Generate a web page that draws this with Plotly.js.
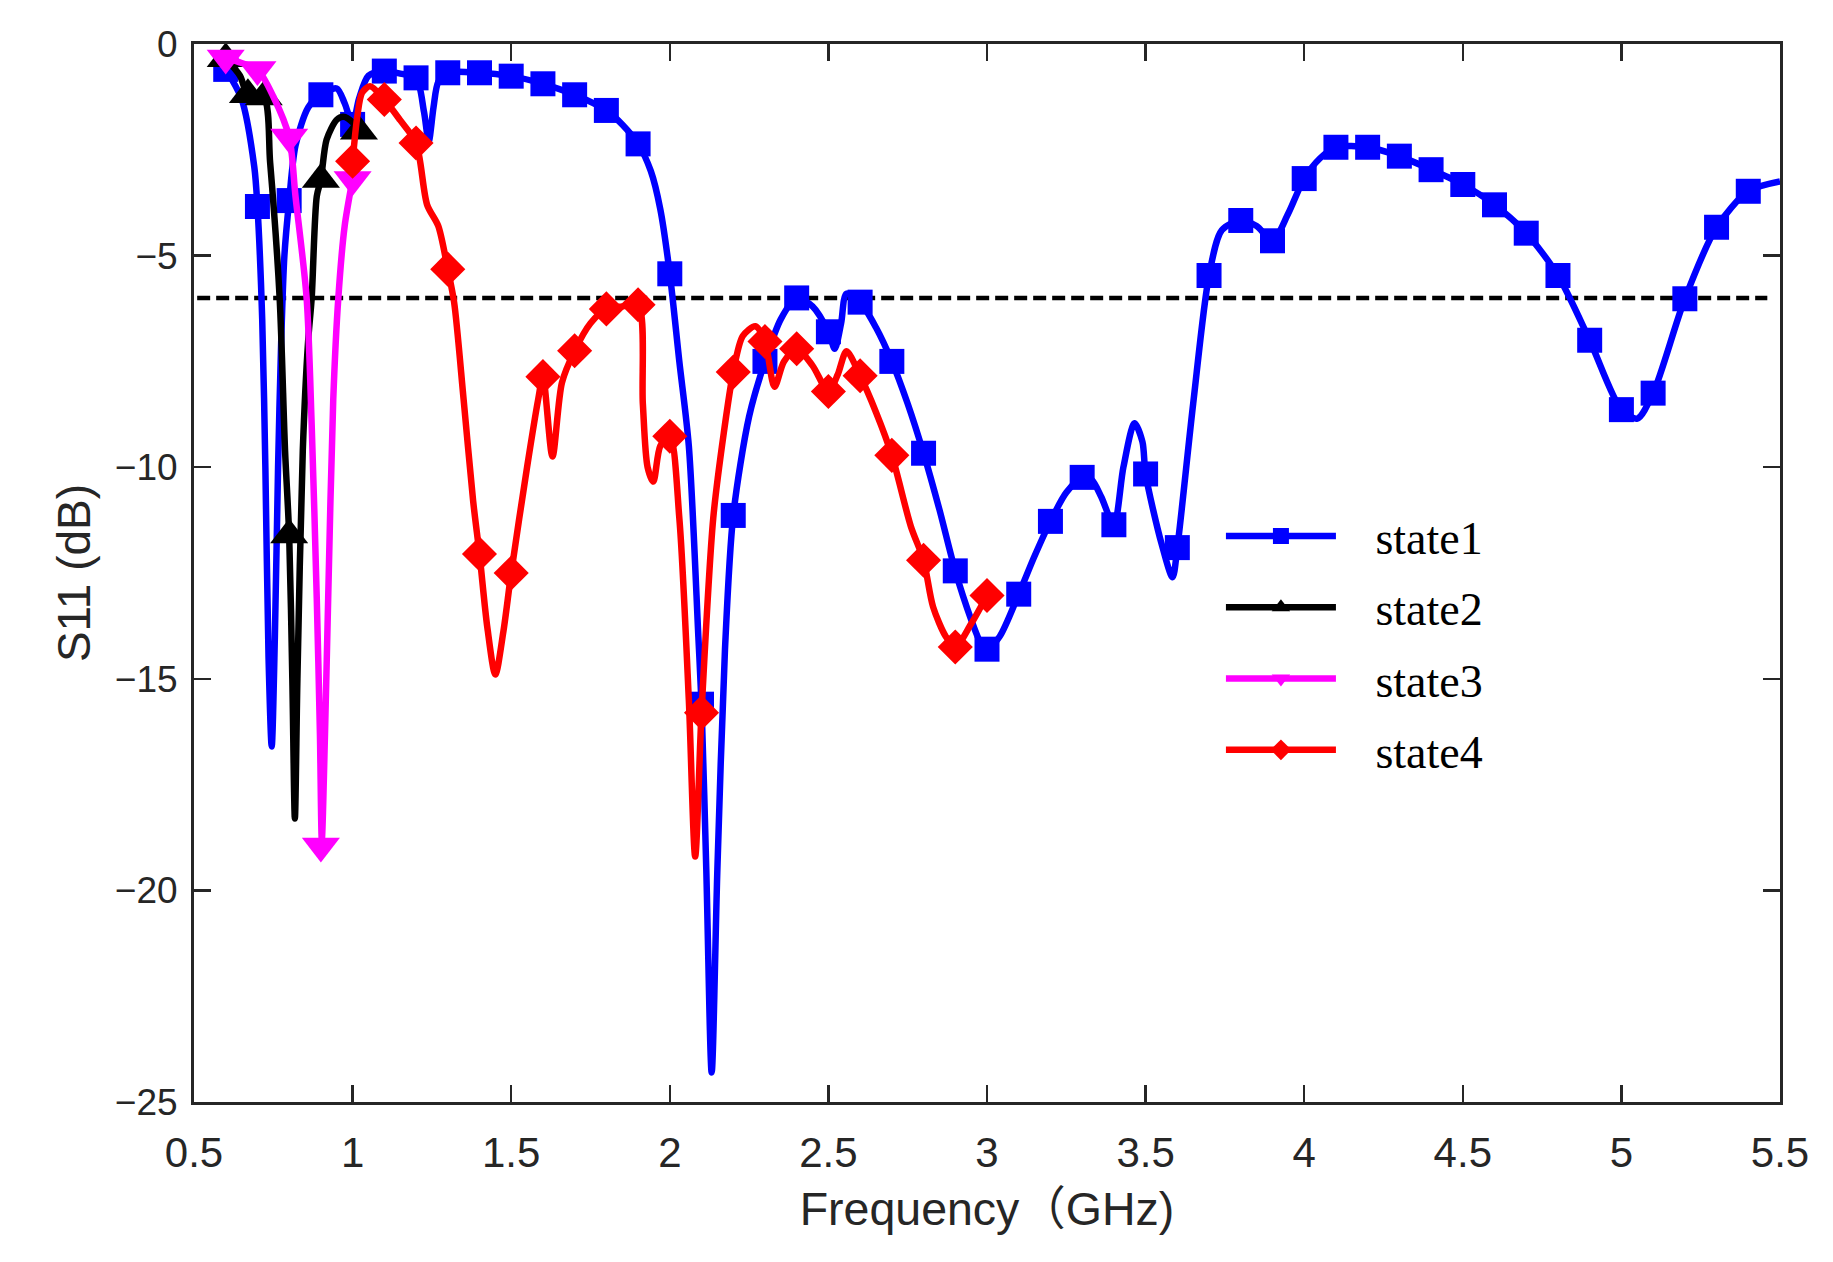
<!DOCTYPE html>
<html>
<head>
<meta charset="utf-8">
<script src="https://cdn.plot.ly/plotly-3.0.1.min.js"></script>
<style>
html,body{margin:0;padding:0;background:#fff;}
#chart{width:1833px;height:1262px;}
</style>
</head>
<body>
<div id="chart"></div>
<script>
// ---------- data ----------
// state1 (blue, squares) curve vertices
var s1F = [0.60,0.65,0.69,0.70,0.715,0.725,0.735,0.745,0.755,0.765,0.775,0.785,0.80,0.82,0.86,0.90,0.95,0.975,1.00,1.02,1.05,1.10,1.15,1.20,1.225,1.24,1.255,1.27,1.30,1.40,1.50,1.60,1.70,1.80,1.85,1.90,1.94,1.97,2.00,2.03,2.06,2.09,2.10,2.115,2.132,2.15,2.174,2.20,2.25,2.30,2.35,2.40,2.45,2.50,2.52,2.54,2.557,2.60,2.65,2.70,2.75,2.80,2.85,2.90,2.95,2.98,3.00,3.04,3.10,3.15,3.20,3.25,3.30,3.33,3.36,3.40,3.43,3.465,3.49,3.50,3.55,3.585,3.60,3.65,3.70,3.74,3.80,3.85,3.90,3.95,4.00,4.05,4.10,4.20,4.30,4.40,4.50,4.60,4.70,4.80,4.90,5.00,5.05,5.10,5.20,5.30,5.40,5.50];
var s1V = [-0.6,-1.3,-2.9,-3.84,-6.5,-10.0,-14.5,-16.6,-14.0,-10.0,-7.0,-5.0,-3.7,-2.4,-1.5,-1.2,-1.05,-1.4,-1.9,-1.3,-0.75,-0.64,-0.7,-0.8,-1.6,-2.3,-1.5,-0.9,-0.68,-0.68,-0.76,-0.94,-1.2,-1.57,-1.9,-2.36,-3.0,-3.9,-5.43,-7.5,-9.5,-14.0,-15.6,-19.5,-24.3,-19.5,-14.3,-11.14,-8.8,-7.5,-6.5,-6.0,-6.2,-6.8,-7.2,-6.6,-5.9,-6.1,-6.7,-7.5,-8.5,-9.67,-11.0,-12.45,-13.6,-14.15,-14.3,-14.0,-13.0,-12.1,-11.28,-10.6,-10.24,-10.3,-10.7,-11.36,-10.0,-8.96,-9.4,-10.16,-11.8,-12.6,-11.9,-8.5,-5.47,-4.4,-4.17,-4.3,-4.65,-4.0,-3.18,-2.7,-2.44,-2.44,-2.65,-2.97,-3.32,-3.8,-4.47,-5.47,-7.0,-8.64,-8.85,-8.25,-6.02,-4.33,-3.48,-3.25];
// state1 marker positions
var s1MF = [0.6,0.7,0.8,0.9,1.0,1.1,1.2,1.3,1.4,1.5,1.6,1.7,1.8,1.9,2.0,2.1,2.2,2.3,2.4,2.5,2.6,2.7,2.8,2.9,3.0,3.1,3.2,3.3,3.4,3.5,3.6,3.7,3.8,3.9,4.0,4.1,4.2,4.3,4.4,4.5,4.6,4.7,4.8,4.9,5.0,5.1,5.2,5.3,5.4];
var s1MV = [-0.6,-3.84,-3.7,-1.2,-1.9,-0.64,-0.8,-0.68,-0.68,-0.76,-0.94,-1.2,-1.57,-2.36,-5.43,-15.6,-11.14,-7.5,-6.0,-6.8,-6.1,-7.5,-9.67,-12.45,-14.3,-13.0,-11.28,-10.24,-11.36,-10.16,-11.9,-5.47,-4.17,-4.65,-3.18,-2.44,-2.44,-2.65,-2.97,-3.32,-3.8,-4.47,-5.47,-7.0,-8.64,-8.25,-6.02,-4.33,-3.48];

// state2 (black, triangles up)
var s2F = [0.60,0.645,0.67,0.72,0.74,0.77,0.787,0.80,0.81,0.818,0.826,0.843,0.86,0.871,0.887,0.90,0.918,0.95,0.971,1.00,1.02];
var s2V = [-0.35,-0.75,-1.2,-1.25,-2.8,-6.0,-9.6,-11.6,-15.0,-18.3,-15.0,-9.6,-7.0,-6.0,-3.6,-3.2,-2.26,-1.79,-1.72,-1.85,-2.06];
var s2MF = [0.6,0.67,0.72,0.8,0.9,1.02];
var s2MV = [-0.35,-1.2,-1.25,-11.6,-3.2,-2.06];

// state3 (magenta, triangles down)
var s3F = [0.60,0.65,0.70,0.75,0.80,0.82,0.855,0.871,0.887,0.897,0.903,0.913,0.923,0.939,0.955,0.975,1.00];
var s3V = [-0.33,-0.45,-0.6,-1.24,-2.2,-3.6,-6.0,-9.0,-13.1,-16.3,-18.8,-16.3,-13.1,-8.4,-6.0,-4.3,-3.2];
var s3MF = [0.6,0.7,0.8,0.9,1.0];
var s3MV = [-0.33,-0.6,-2.2,-18.95,-3.2];

// state4 (red, diamonds)
var s4F = [1.00,1.015,1.03,1.055,1.10,1.15,1.20,1.235,1.27,1.30,1.32,1.35,1.38,1.40,1.425,1.45,1.475,1.50,1.55,1.585,1.60,1.63,1.66,1.70,1.75,1.80,1.85,1.90,1.915,1.93,1.948,1.97,2.00,2.03,2.06,2.08,2.10,2.137,2.17,2.20,2.23,2.27,2.30,2.33,2.36,2.40,2.45,2.50,2.53,2.557,2.60,2.65,2.70,2.76,2.80,2.83,2.87,2.90,2.95,3.00];
var s4V = [-2.77,-1.7,-1.15,-1.0,-1.31,-1.8,-2.34,-3.8,-4.3,-5.32,-6.1,-8.4,-10.8,-12.05,-13.8,-14.9,-13.9,-12.5,-10.0,-8.4,-7.86,-9.75,-8.0,-7.25,-6.6,-6.26,-6.2,-6.16,-8.5,-10.0,-10.34,-9.5,-9.27,-11.2,-15.5,-19.2,-15.8,-11.2,-9.2,-7.75,-6.9,-6.67,-7.03,-8.1,-7.5,-7.2,-7.6,-8.21,-7.8,-7.26,-7.84,-8.7,-9.72,-11.4,-12.2,-13.3,-14.0,-14.25,-13.7,-13.03];
var s4MF = [1.0,1.1,1.2,1.3,1.4,1.5,1.6,1.7,1.8,1.9,2.0,2.1,2.2,2.3,2.4,2.5,2.6,2.7,2.8,2.9,3.0];
var s4MV = [-2.77,-1.31,-2.34,-5.32,-12.05,-12.5,-7.86,-7.25,-6.26,-6.16,-9.27,-15.8,-7.75,-7.03,-7.2,-8.21,-7.84,-9.72,-12.2,-14.25,-13.03];

// -6 dB reference line
var thrF = [0.51, 5.46];
var thrV = [-6, -6];

// names and ticks
var seriesNames = ['state1','state2','state3','state4'];
var xTickVals = [0.5,1,1.5,2,2.5,3,3.5,4,4.5,5,5.5];
var xTickText = ['0.5','1','1.5','2','2.5','3','3.5','4','4.5','5','5.5'];
var yTickVals = [0,-5,-10,-15,-20,-25];
var yTickText = ['0','\u22125','\u221210','\u221215','\u221220','\u221225'];
var xTitle = 'Frequency\uFF08GHz)';
var yTitle = 'S11 (dB)';

// ---------- styling ----------
var colors = ['#0000FF','#000000','#FF00FF','#FF0000'];
var symbols = ['square','triangle-up','triangle-down','diamond'];
var msizes = [25,33,33,27];
var LW = 6.5;

var curves = [[s1F,s1V],[s2F,s2V],[s3F,s3V],[s4F,s4V]];
var marks = [[s1MF,s1MV],[s2MF,s2MV],[s3MF,s3MV],[s4MF,s4MV]];

var traces = [];
traces.push({
  x: thrF, y: thrV, mode: 'lines', showlegend: false, hoverinfo: 'skip',
  line: {color: '#000000', width: 4.5, dash: '13px,6px'}
});
for (var i = 0; i < 4; i++) {
  traces.push({
    x: curves[i][0], y: curves[i][1], mode: 'lines', showlegend: false,
    line: {color: colors[i], width: LW, shape: 'spline', smoothing: 0.8}
  });
  traces.push({
    x: marks[i][0], y: marks[i][1], mode: 'markers', showlegend: false,
    marker: {color: colors[i], symbol: symbols[i], size: msizes[i], line: {width: 0}}
  });
}
// legend entries
for (var j = 0; j < 4; j++) {
  traces.push({
    x: [null], y: [null], mode: 'lines+markers', name: '\u00A0\u00A0\u00A0' + seriesNames[j],
    legendgroup: 'g' + j,
    line: {color: colors[j], width: LW},
    marker: {color: colors[j], symbol: symbols[j], size: msizes[j]}
  });
}

var axisCommon = {
  showgrid: false, zeroline: false, showline: true, mirror: 'ticks',
  linecolor: '#262626', linewidth: 3,
  ticks: 'inside', ticklen: 17, tickwidth: 2.5, tickcolor: '#262626'
};

var layout = {
  width: 1833, height: 1262,
  margin: {l: 194, r: 53, t: 44, b: 160},
  paper_bgcolor: '#ffffff', plot_bgcolor: '#ffffff',
  showlegend: true,
  legend: {
    x: 0.6475, xanchor: 'left', y: 0.5694, yanchor: 'top',
    bgcolor: 'rgba(0,0,0,0)', borderwidth: 0,
    font: {family: 'Liberation Serif, Times New Roman, serif', size: 46, color: '#000000'},
    itemwidth: 110, tracegroupgap: 8.5, traceorder: 'grouped'
  },
  xaxis: Object.assign({}, axisCommon, {
    range: [0.5, 5.5], tickmode: 'array', tickvals: xTickVals, ticktext: xTickText,
    ticklabelstandoff: 12,
    tickfont: {family: 'Liberation Sans, Arial, sans-serif', size: 42, color: '#262626'},
    title: {text: xTitle, font: {family: 'Liberation Sans, Arial, Noto Sans CJK SC, sans-serif', size: 46.5, color: '#262626'}, standoff: 18}
  }),
  yaxis: Object.assign({}, axisCommon, {
    range: [-25, 0], tickmode: 'array', tickvals: yTickVals, ticktext: yTickText,
    ticklabelstandoff: 6,
    tickfont: {family: 'Liberation Sans, Arial, sans-serif', size: 37, color: '#262626'},
    title: {text: yTitle, font: {family: 'Liberation Sans, Arial, sans-serif', size: 46, color: '#262626'}, standoff: 10}
  })
};

Plotly.newPlot('chart', traces, layout, {displayModeBar: false, staticPlot: true});
</script>
</body>
</html>
